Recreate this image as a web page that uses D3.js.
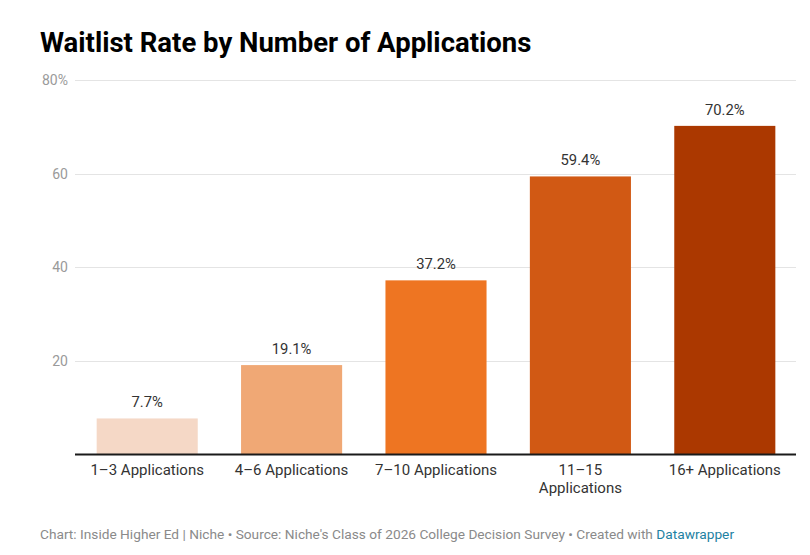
<!DOCTYPE html>
<html>
<head>
<meta charset="utf-8">
<script src="https://cdn.jsdelivr.net/npm/d3@7"></script>
<style>
  body { margin: 0; background: #fff; font-family: Roboto, "Noto Sans", sans-serif; }
</style>
</head>
<body>
<svg id="chart" width="810" height="555"></svg>
<script>
var categories = ["1–3 Applications", "4–6 Applications", "7–10 Applications", "11–15 Applications", "16+ Applications"];
var values = [7.7, 19.1, 37.2, 59.4, 70.2];
var barColors = ["#f5d8c6", "#f0a875", "#ee7522", "#d15914", "#ab3800"];
var yTicks = [20, 40, 60, 80];

var svg = d3.select("#chart");

var margin = { top: 80, left: 75, right: 13, bottom: 100 };
var W = 810, H = 555;
var baseline = 454.5;

var x = d3.scaleBand()
    .domain(categories)
    .range([margin.left, W - margin.right])
    .paddingInner(0.3)
    .paddingOuter(0.15);

var y = d3.scaleLinear()
    .domain([0, 80])
    .range([baseline, margin.top]);

// 标题
svg.append("text")
    .attr("x", 40)
    .attr("y", 52)
    .style("font-size", "27.5px")
    .style("font-weight", 700)
    .style("fill", "#000")
    .text("Waitlist Rate by Number of Applications");

// 网格线
var grid = svg.append("g").attr("class", "grid");
grid.selectAll("line")
    .data(yTicks)
    .enter().append("line")
    .attr("x1", 75)
    .attr("x2", 796)
    .attr("y1", function (d) { return Math.round(y(d)) + 0.5; })
    .attr("y2", function (d) { return Math.round(y(d)) + 0.5; })
    .attr("stroke", "#e4e4e4")
    .attr("stroke-width", 1);

grid.selectAll("text")
    .data(yTicks)
    .enter().append("text")
    .attr("x", 68)
    .attr("y", function (d) { return y(d) + 5; })
    .attr("text-anchor", "end")
    .style("font-size", "14px")
    .style("fill", "#9a9a9a")
    .text(function (d) { return d === 80 ? d + "%" : d; });

// 柱子
svg.append("g").selectAll("rect")
    .data(values)
    .enter().append("rect")
    .attr("x", function (d, i) { return x(categories[i]); })
    .attr("y", function (d) { return y(d); })
    .attr("width", x.bandwidth())
    .attr("height", function (d) { return baseline - y(d); })
    .attr("fill", function (d, i) { return barColors[i]; });

// 数值标签
svg.append("g").selectAll("text")
    .data(values)
    .enter().append("text")
    .attr("x", function (d, i) { return x(categories[i]) + x.bandwidth() / 2; })
    .attr("y", function (d) { return y(d) - 11; })
    .attr("text-anchor", "middle")
    .style("font-size", "14.8px")
    .style("fill", "#333")
    .text(function (d) { return d.toFixed(1) + "%"; });

// 基线
svg.append("line")
    .attr("x1", 75)
    .attr("x2", 796)
    .attr("y1", baseline)
    .attr("y2", baseline)
    .attr("stroke", "#1a1a1a")
    .attr("stroke-width", 2);

// X 轴标签（过长则换行）
var xLabels = svg.append("g");
categories.forEach(function (c, i) {
    var lines = c.length > 17 ? c.split(" ") : [c];
    var t = xLabels.append("text")
        .attr("x", x(c) + x.bandwidth() / 2)
        .attr("y", 475)
        .attr("text-anchor", "middle")
        .style("font-size", "15px")
        .style("fill", "#333");
    lines.forEach(function (l, j) {
        t.append("tspan")
            .attr("x", x(c) + x.bandwidth() / 2)
            .attr("dy", j === 0 ? 0 : 18)
            .text(l);
    });
});

// 页脚
var foot = svg.append("text")
    .attr("x", 40)
    .attr("y", 539)
    .style("font-size", "13.7px")
    .style("fill", "#8a8a8a");
foot.append("tspan").text("Chart: Inside Higher Ed | Niche • Source: Niche's Class of 2026 College Decision Survey • Created with ");
foot.append("tspan").style("fill", "#1d81a2").text("Datawrapper");
</script>
</body>
</html>
